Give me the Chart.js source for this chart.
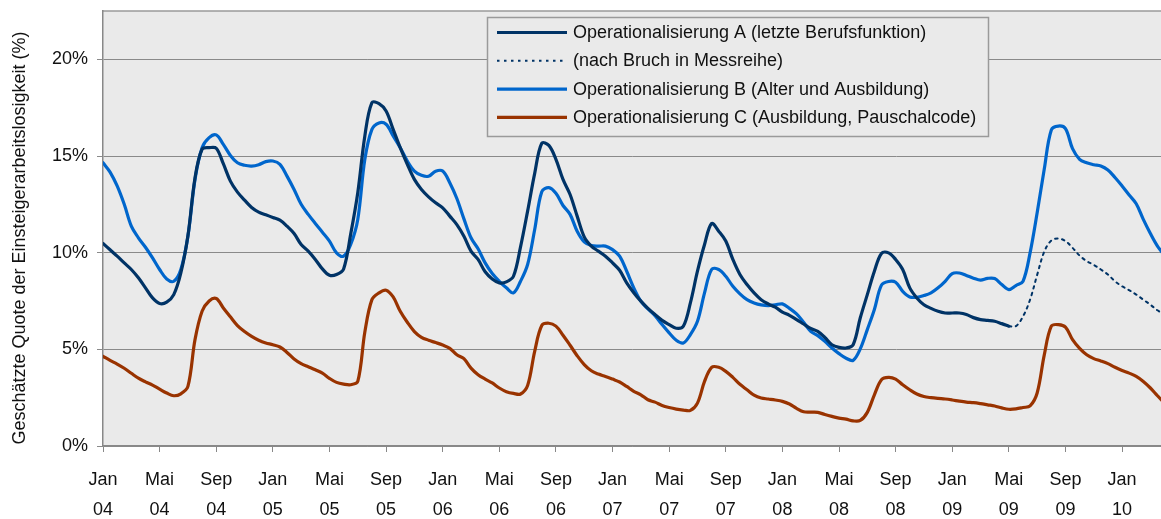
<!DOCTYPE html>
<html>
<head>
<meta charset="utf-8">
<script src="https://cdn.jsdelivr.net/npm/chart.js@4"></script>
<style>
  html, body { margin: 0; padding: 0; background: #ffffff; }
  #wrap { width: 1161px; height: 519px; position: relative; }
</style>
</head>
<body>
<div id="wrap"><canvas id="chart"></canvas></div>
<script>
// Half-monthly estimates, starting January 2004 (index 0 = Jan 04, step = half a month)
const opA = [
  10.48, 10.15, 9.82, 9.47, 9.13, 8.7, 8.18, 7.66, 7.37, 7.44, 7.83, 8.95,
  10.87, 13.86, 15.35, 15.43, 15.4, 14.6, 13.7, 13.13, 12.72, 12.34, 12.1, 11.96,
  11.82, 11.68, 11.37, 10.99, 10.42, 10.08, 9.65, 9.16, 8.83, 8.87, 9.16, 10.96,
  13.1, 16.04, 17.76, 17.71, 17.33, 16.38, 15.43, 14.57, 13.79, 13.27, 12.89, 12.58,
  12.32, 11.89, 11.45, 10.85, 10.08, 9.65, 9.01, 8.64, 8.44, 8.49, 8.78, 10.3,
  12.15, 14.1, 15.66, 15.55, 14.83, 13.79, 13.01, 11.89, 10.82, 10.34, 10.08, 9.82,
  9.47, 9.09, 8.44, 7.93, 7.49, 7.12, 6.8, 6.5, 6.28, 6.09, 6.19, 7.4,
  9.04, 10.42, 11.51, 11.11, 10.6, 9.65, 8.87, 8.35, 7.92, 7.57, 7.35, 7.18,
  6.93, 6.76, 6.54, 6.31, 6.08, 5.93, 5.62, 5.24, 5.1, 5.07, 5.24, 6.62,
  7.83, 9.04, 9.96, 9.99, 9.65, 9.13, 8.18, 7.66, 7.31, 7.12, 6.97, 6.88,
  6.88, 6.88, 6.8, 6.64, 6.54, 6.5, 6.45, 6.33, 6.2
];
// Series A after the break in the time series, starting at index 128 (May 09)
const opABreakStart = 128;
const opABreak = [
  6.2, 6.2, 6.7, 7.57, 8.85, 10.05, 10.63, 10.73, 10.6, 10.25, 9.85, 9.56,
  9.37, 9.13, 8.87, 8.52, 8.26, 8.06, 7.83, 7.57, 7.31, 7.02, 6.8
];
const opB = [
  14.65, 14.17, 13.45, 12.5, 11.37, 10.77, 10.28, 9.73, 9.13, 8.64, 8.52, 9.13,
  10.85, 13.79, 15.43, 15.95, 16.09, 15.6, 15.03, 14.65, 14.52, 14.48, 14.55, 14.71,
  14.74, 14.57, 13.96, 13.27, 12.5, 11.98, 11.51, 11.06, 10.6, 9.99, 9.82, 10.42,
  11.72, 14.83, 16.38, 16.71, 16.64, 16.04, 15.43, 14.74, 14.22, 14.0, 13.95, 14.21,
  14.22, 13.62, 12.8, 11.75, 10.77, 10.2, 9.47, 8.92, 8.52, 8.18, 7.92, 8.52,
  9.39, 11.2, 13.15, 13.36, 13.07, 12.44, 11.98, 11.11, 10.56, 10.37, 10.34, 10.34,
  10.16, 9.82, 9.04, 8.18, 7.49, 7.09, 6.74, 6.28, 5.85, 5.47, 5.33, 5.76,
  6.45, 7.92, 9.13, 9.13, 8.78, 8.26, 7.87, 7.57, 7.4, 7.3, 7.26, 7.3,
  7.35, 7.12, 6.83, 6.4, 5.93, 5.71, 5.41, 5.07, 4.78, 4.54, 4.43, 5.02,
  6.02, 7.06, 8.32, 8.51, 8.47, 8.0, 7.71, 7.69, 7.78, 7.92, 8.18, 8.52,
  8.92, 8.95, 8.82, 8.68, 8.58, 8.67, 8.66, 8.35, 8.09, 8.3, 8.52, 9.99,
  12.06, 14.31, 16.35, 16.55, 16.42, 15.38, 14.83, 14.65, 14.55, 14.48, 14.27, 13.89,
  13.45, 12.98, 12.53, 11.72, 10.99, 10.34, 9.87
];
const opC = [
  4.64, 4.43, 4.24, 4.02, 3.76, 3.51, 3.32, 3.15, 2.94, 2.74, 2.6, 2.7,
  3.08, 5.5, 6.97, 7.5, 7.63, 7.14, 6.68, 6.23, 5.92, 5.67, 5.47, 5.33,
  5.24, 5.12, 4.84, 4.5, 4.26, 4.1, 3.94, 3.77, 3.5, 3.29, 3.2, 3.17,
  3.34, 5.9, 7.57, 7.92, 8.06, 7.71, 6.97, 6.4, 5.92, 5.62, 5.47, 5.35,
  5.22, 5.05, 4.72, 4.52, 4.03, 3.69, 3.46, 3.26, 3.0, 2.81, 2.72, 2.69,
  3.13, 4.9, 6.23, 6.35, 6.2, 5.73, 5.21, 4.67, 4.21, 3.89, 3.72, 3.6,
  3.46, 3.31, 3.08, 2.83, 2.65, 2.39, 2.27, 2.1, 1.99, 1.91, 1.86, 1.84,
  2.22, 3.34, 4.07, 4.07, 3.86, 3.55, 3.19, 2.91, 2.63, 2.48, 2.43, 2.38,
  2.31, 2.17, 1.95, 1.77, 1.75, 1.74, 1.63, 1.53, 1.44, 1.39, 1.3, 1.32,
  1.74, 2.65, 3.43, 3.55, 3.46, 3.17, 2.91, 2.69, 2.56, 2.5, 2.46, 2.43,
  2.38, 2.32, 2.27, 2.24, 2.19, 2.13, 2.07, 1.97, 1.9, 1.92, 1.99, 2.07,
  2.74, 4.7, 6.2, 6.28, 6.15, 5.5, 5.05, 4.72, 4.52, 4.4, 4.26, 4.07,
  3.91, 3.77, 3.6, 3.34, 3.0, 2.6, 2.22
];

// Axis: month ticks every four months, labels as month / two-digit year
const tickMonths = [0, 4, 8, 12, 16, 20, 24, 28, 32, 36, 40, 44, 48, 52, 56, 60, 64, 68, 72];
const tickLabels = [
  'Jan 04', 'Mai 04', 'Sep 04', 'Jan 05', 'Mai 05', 'Sep 05', 'Jan 06', 'Mai 06',
  'Sep 06', 'Jan 07', 'Mai 07', 'Sep 07', 'Jan 08', 'Mai 08', 'Sep 08', 'Jan 09',
  'Mai 09', 'Sep 09', 'Jan 10'
];
const yTicks = [0, 5, 10, 15, 20];

const seriesLabels = [
  'Operationalisierung A (letzte Berufsfunktion)',
  '(nach Bruch in Messreihe)',
  'Operationalisierung B (Alter und Ausbildung)',
  'Operationalisierung C (Ausbildung, Pauschalcode)'
];
const yTitle = 'Geschätzte Quote der Einsteigerarbeitslosigkeit (%)';

const FONT = '"Liberation Sans", Arial, Helvetica, sans-serif';
const STEP = 0.5; // months per data index

function toPoints(values, start) {
  return values.map((v, i) => ({ x: (start + i) * STEP, y: v }));
}

const plotBackground = {
  id: 'plotBackground',
  beforeDraw(chart) {
    const { ctx, chartArea: a } = chart;
    ctx.save();
    ctx.fillStyle = '#eaeaea';
    ctx.fillRect(a.left, a.top, a.right - a.left, a.bottom - a.top);
    ctx.strokeStyle = '#9a9a9a';
    ctx.lineWidth = 1.5;
    ctx.beginPath();
    ctx.moveTo(a.left, a.top);
    ctx.lineTo(a.right, a.top);
    ctx.stroke();
    ctx.restore();
  }
};

const axisTitle = {
  id: 'axisTitle',
  afterDraw(chart) {
    const { ctx } = chart;
    ctx.save();
    ctx.translate(20, 238);
    ctx.rotate(-Math.PI / 2);
    ctx.font = '18px ' + FONT;
    ctx.fillStyle = '#111';
    ctx.textAlign = 'center';
    ctx.textBaseline = 'middle';
    ctx.fillText(yTitle, 0, 0);
    ctx.restore();
  }
};

const boxLegend = {
  id: 'boxLegend',
  afterDraw(chart) {
    const { ctx } = chart;
    const box = { x: 487.5, y: 17.5, w: 501, h: 119 };
    ctx.save();
    ctx.fillStyle = '#eaeaea';
    ctx.fillRect(box.x, box.y, box.w, box.h);
    ctx.strokeStyle = '#9a9a9a';
    ctx.lineWidth = 1.5;
    ctx.strokeRect(box.x, box.y, box.w, box.h);
    ctx.font = '18px ' + FONT;
    ctx.textBaseline = 'middle';
    ctx.textAlign = 'left';
    chart.data.datasets.forEach((ds, i) => {
      const y = box.y + 15 + i * 28.3;
      ctx.strokeStyle = ds.borderColor;
      ctx.lineWidth = ds.borderWidth;
      ctx.setLineDash(ds.borderDash || []);
      ctx.beginPath();
      ctx.moveTo(497, y);
      ctx.lineTo(567, y);
      ctx.stroke();
      ctx.setLineDash([]);
      ctx.fillStyle = '#111';
      ctx.fillText(ds.label, 573, y + 0.5);
    });
    ctx.restore();
  }
};

new Chart(document.getElementById('chart'), {
  type: 'line',
  data: {
    datasets: [
      { label: seriesLabels[0], data: toPoints(opA, 0), borderColor: '#003366', borderWidth: 3.2 },
      { label: seriesLabels[1], data: toPoints(opABreak, opABreakStart), borderColor: '#003366', borderWidth: 2, borderDash: [2.5, 4.5] },
      { label: seriesLabels[2], data: toPoints(opB, 0), borderColor: '#0066cc', borderWidth: 3.2 },
      { label: seriesLabels[3], data: toPoints(opC, 0), borderColor: '#993300', borderWidth: 3.2 }
    ]
  },
  options: {
    responsive: true,
    maintainAspectRatio: false,
    devicePixelRatio: 1,
    animation: false,
    layout: { padding: { top: 11, left: 0, right: 0, bottom: 0 } },
    elements: {
      point: { radius: 0, hoverRadius: 0 },
      line: { tension: 0.35, borderCapStyle: 'round', borderJoinStyle: 'round', fill: false }
    },
    plugins: {
      legend: { display: false },
      tooltip: { enabled: false }
    },
    scales: {
      x: {
        type: 'linear',
        min: 0,
        max: 74.75,
        afterBuildTicks(scale) {
          scale.ticks = tickMonths.map(v => ({ value: v }));
        },
        afterFit(scale) {
          scale.height = 73;
          scale.paddingLeft = 0;
          scale.paddingRight = 0;
        },
        ticks: {
          autoSkip: false,
          maxRotation: 0,
          minRotation: 0,
          padding: 13,
          color: '#111',
          font: { family: FONT, size: 18, lineHeight: 1.65 },
          callback(value, index) { return tickLabels[index].split(' '); }
        },
        grid: { drawOnChartArea: false, drawTicks: true, tickLength: 6, color: '#888888', lineWidth: 1 },
        border: { display: true, color: '#888888', width: 1.5 }
      },
      y: {
        type: 'linear',
        min: 0,
        max: 22.5,
        afterBuildTicks(scale) {
          scale.ticks = yTicks.map(v => ({ value: v }));
        },
        afterFit(scale) {
          scale.width = 103;
          scale.paddingTop = 0;
          scale.paddingBottom = 0;
        },
        ticks: {
          padding: 9,
          color: '#111',
          font: { family: FONT, size: 18 },
          callback(value) { return value + '%'; }
        },
        grid: { color: '#8a8a8a', lineWidth: 1, tickLength: 6 },
        border: { display: true, color: '#888888', width: 1.5 }
      }
    }
  },
  plugins: [plotBackground, axisTitle, boxLegend]
});
</script>
</body>
</html>
